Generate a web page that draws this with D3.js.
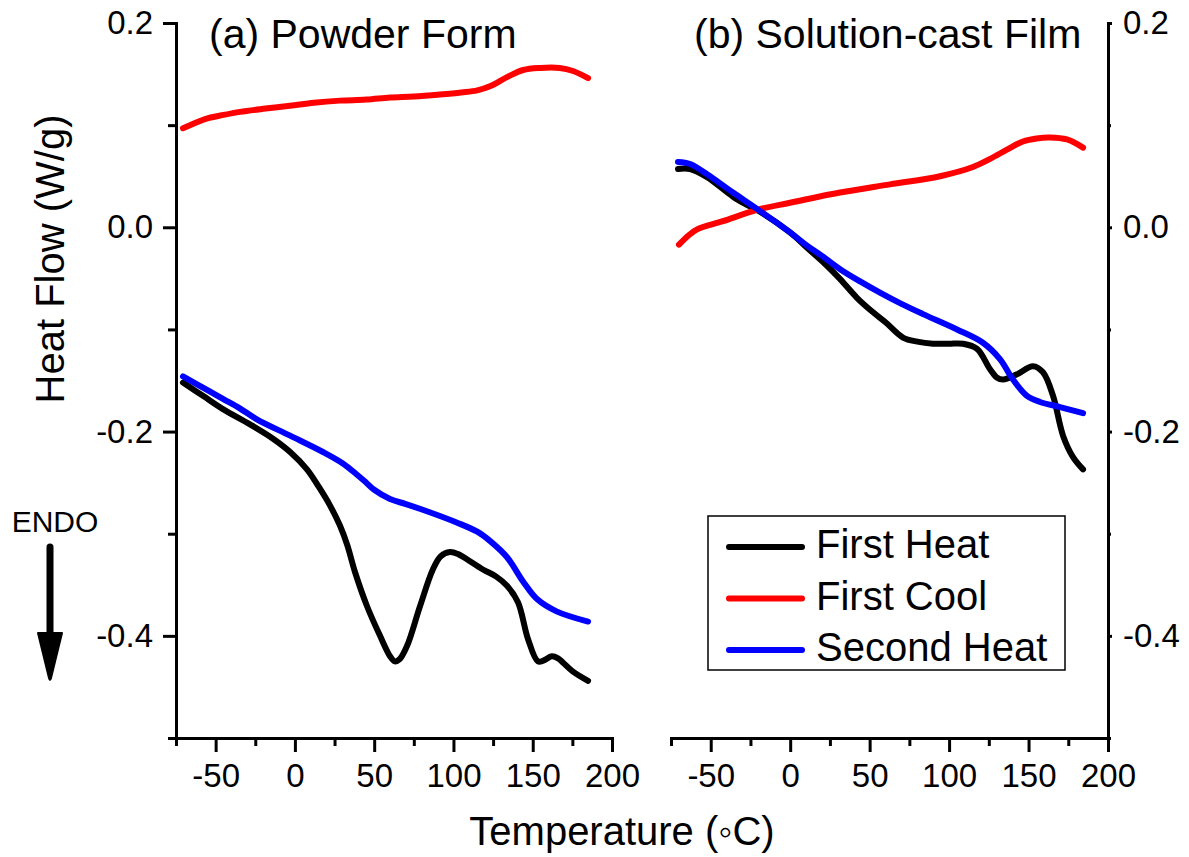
<!DOCTYPE html>
<html><head><meta charset="utf-8">
<script src="https://cdn.jsdelivr.net/npm/d3@7"></script>
<style>body{margin:0;background:#fff;} svg{display:block;font-family:"Liberation Sans",Arial,sans-serif;}</style>
</head><body><svg id="c" width="1189" height="857"></svg>
<script>
// ---- data ----
const temperatureTicks = [-50, 0, 50, 100, 150, 200];
const temperatureMinorTicks = [-75, -25, 25, 75, 125, 175];
const heatFlowTicks = [-0.4, -0.2, 0.0, 0.2];
const heatFlowMinorTicks = [-0.5, -0.3, -0.1, 0.1];
const seriesNames = ["First Heat", "First Cool", "Second Heat"];
const seriesColors = ["#000000", "#ff0000", "#0000ff"];
const panelTitles = ["(a) Powder Form", "(b) Solution-cast Film"];

// Panel (a) Powder Form: [temperature °C, heat flow W/g]
const powderFirstHeat = [[-70.6,-0.152],[-58,-0.165],[-45.4,-0.178],[-28.3,-0.193],[-13.8,-0.207],[-3,-0.220],[7.6,-0.237],[15,-0.254],[22,-0.272],[28.4,-0.292],[33,-0.311],[38,-0.338],[45.5,-0.371],[53.7,-0.400],[60,-0.420],[63,-0.425],[66,-0.423],[70.7,-0.410],[78.9,-0.371],[87,-0.335],[92,-0.322],[97.8,-0.318],[103,-0.320],[108.5,-0.325],[118.6,-0.335],[127,-0.342],[133.8,-0.351],[140.7,-0.367],[147,-0.403],[153.3,-0.425],[157,-0.424],[162,-0.420],[166,-0.422],[169,-0.426],[175.4,-0.435],[184.9,-0.444]];
const powderFirstCool = [[-70.6,0.097],[-63,0.102],[-56.7,0.106],[-45,0.110],[-34.6,0.113],[-20,0.116],[-3.1,0.119],[12,0.122],[28.4,0.124],[45,0.125],[60,0.127],[75,0.128],[91.5,0.130],[105,0.132],[115,0.134],[123,0.138],[133.8,0.147],[144,0.154],[154.6,0.156],[167,0.156],[175.4,0.153],[184.9,0.146]];
const powderSecondHeat = [[-70.6,-0.146],[-58,-0.157],[-45.4,-0.168],[-35,-0.177],[-24,-0.188],[-3,-0.204],[17.7,-0.220],[30,-0.231],[39,-0.242],[45,-0.250],[50,-0.257],[60,-0.266],[70,-0.271],[85,-0.279],[102,-0.289],[115,-0.298],[123,-0.307],[133.8,-0.323],[144,-0.347],[152.7,-0.364],[165,-0.376],[184.9,-0.386]];

// Panel (b) Solution-cast Film
const filmFirstHeat = [[-70.6,0.057],[-63,0.057],[-52.3,0.049],[-36,0.030],[-27.2,0.022],[-20.9,0.017],[-0.1,-0.005],[10.6,-0.020],[20.7,-0.034],[31,-0.050],[42,-0.069],[52,-0.083],[60,-0.093],[71,-0.108],[80,-0.112],[89.9,-0.114],[100,-0.114],[108.8,-0.114],[117.6,-0.119],[125.8,-0.139],[130,-0.147],[134,-0.149],[142.7,-0.144],[152.8,-0.136],[159.1,-0.142],[165.4,-0.165],[171.7,-0.204],[178,-0.225],[184.3,-0.237]];
const filmFirstCool = [[-70,-0.017],[-64,-0.008],[-58.6,-0.002],[-42.3,0.006],[-20.9,0.017],[-0.1,0.024],[31.4,0.034],[62.8,0.042],[94.3,0.050],[115,0.059],[125.8,0.067],[136.4,0.076],[146.5,0.084],[155,0.087],[163.5,0.088],[174.2,0.086],[184.3,0.078]];
const filmSecondHeat = [[-70.6,0.064],[-63,0.062],[-52.3,0.052],[-36,0.034],[-20.9,0.018],[-0.1,-0.005],[10.6,-0.018],[20,-0.028],[31.4,-0.041],[44,-0.053],[56.5,-0.064],[70,-0.075],[83.6,-0.085],[105,-0.100],[121.3,-0.113],[132,-0.129],[140.2,-0.149],[149,-0.165],[157.2,-0.171],[169.8,-0.176],[184.3,-0.182]];

// ---- drawing ----
const svg = d3.select("#c");
const FONT = '"Liberation Sans", Arial, sans-serif';
const y = d3.scaleLinear().domain([-0.5, 0.2]).range([738, 23]);
const xA = d3.scaleLinear().domain([-75, 200]).range([176, 612]);
const xB = d3.scaleLinear().domain([-75, 200]).range([671, 1108]);

function styleAxis(g, fs) {
  g.attr("font-family", FONT).attr("font-size", fs);
  g.selectAll("path.domain").attr("stroke", "#000").attr("stroke-width", 3).attr("stroke-linecap", "square");
  g.selectAll(".tick line").attr("stroke", "#000").attr("stroke-width", 3);
  g.selectAll(".tick text").attr("fill", "#000");
}

function xAxes(x) {
  const gMinor = svg.append("g").attr("transform", "translate(0,738)")
    .call(d3.axisBottom(x).tickValues(temperatureMinorTicks).tickSize(8).tickSizeOuter(0).tickFormat(""));
  gMinor.select("path.domain").remove();
  styleAxis(gMinor, 33);
  const g = svg.append("g").attr("transform", "translate(0,738)")
    .call(d3.axisBottom(x).tickValues(temperatureTicks).tickSize(14).tickSizeOuter(0).tickPadding(12).tickFormat(d => String(d)));
  styleAxis(g, 33);
}

xAxes(xA);
xAxes(xB);

// left y axis (panel a)
{
  const gm = svg.append("g").attr("transform", "translate(176,0)")
    .call(d3.axisLeft(y).tickValues(heatFlowMinorTicks).tickSize(8).tickSizeOuter(0).tickFormat(""));
  gm.select("path.domain").remove();
  styleAxis(gm, 33);
  const g = svg.append("g").attr("transform", "translate(176,0)")
    .call(d3.axisLeft(y).tickValues(heatFlowTicks).tickSize(13).tickSizeOuter(0).tickPadding(10).tickFormat(d => d.toFixed(1)));
  styleAxis(g, 33);
}
// right y axis (panel b)
{
  const gm = svg.append("g").attr("transform", "translate(1108,0)")
    .call(d3.axisRight(y).tickValues(heatFlowMinorTicks).tickSize(3).tickSizeOuter(0).tickFormat(""));
  gm.select("path.domain").remove();
  styleAxis(gm, 33);
  const g = svg.append("g").attr("transform", "translate(1108,0)")
    .call(d3.axisRight(y).tickValues(heatFlowTicks).tickSize(4).tickSizeOuter(0).tickPadding(11).tickFormat(d => d.toFixed(1)));
  styleAxis(g, 33);
}

function drawLines(x, seriesList) {
  const line = d3.line().x(d => x(d[0])).y(d => y(d[1])).curve(d3.curveCatmullRom.alpha(0.5));
  seriesList.forEach((s, i) => {
    svg.append("path").datum(s).attr("d", line)
      .attr("fill", "none").attr("stroke", seriesColors[i]).attr("stroke-width", 6)
      .attr("stroke-linecap", "round").attr("stroke-linejoin", "round");
  });
}
drawLines(xA, [powderFirstHeat, powderFirstCool, powderSecondHeat]);
drawLines(xB, [filmFirstHeat, filmFirstCool, filmSecondHeat]);

// panel titles
svg.append("text").attr("x", 209).attr("y", 48).attr("font-family", FONT).attr("font-size", 41).text(panelTitles[0]);
svg.append("text").attr("x", 694).attr("y", 48).attr("font-family", FONT).attr("font-size", 41).text(panelTitles[1]);

// axis titles
svg.append("text").attr("transform", "translate(64,259) rotate(-90)").attr("text-anchor", "middle")
  .attr("font-family", FONT).attr("font-size", 40).text("Heat Flow (W/g)");
svg.append("text").attr("x", 622).attr("y", 845).attr("text-anchor", "middle")
  .attr("font-family", FONT).attr("font-size", 40).text("Temperature (\u25E6C)");

// ENDO arrow
svg.append("text").attr("x", 55).attr("y", 532).attr("text-anchor", "middle")
  .attr("font-family", FONT).attr("font-size", 30).text("ENDO");
svg.append("line").attr("x1", 50).attr("x2", 50).attr("y1", 547).attr("y2", 640)
  .attr("stroke", "#000").attr("stroke-width", 7).attr("stroke-linecap", "round");
svg.append("path").attr("d", "M38,633 L62,633 L51,678 Q50,682 49,678 Z").attr("fill", "#000")
  .attr("stroke", "#000").attr("stroke-width", 2).attr("stroke-linejoin", "round");

// legend
const lg = svg.append("g");
lg.append("rect").attr("x", 708).attr("y", 516).attr("width", 357).attr("height", 154)
  .attr("fill", "#fff").attr("stroke", "#000").attr("stroke-width", 1.5);
seriesNames.forEach((n, i) => {
  const ly = 547 + i * 51.5;
  lg.append("line").attr("x1", 729).attr("x2", 802).attr("y1", ly).attr("y2", ly)
    .attr("stroke", seriesColors[i]).attr("stroke-width", 6).attr("stroke-linecap", "round");
  lg.append("text").attr("x", 816).attr("y", ly + 11).attr("font-family", FONT).attr("font-size", 40).text(n);
});
</script></body></html>
